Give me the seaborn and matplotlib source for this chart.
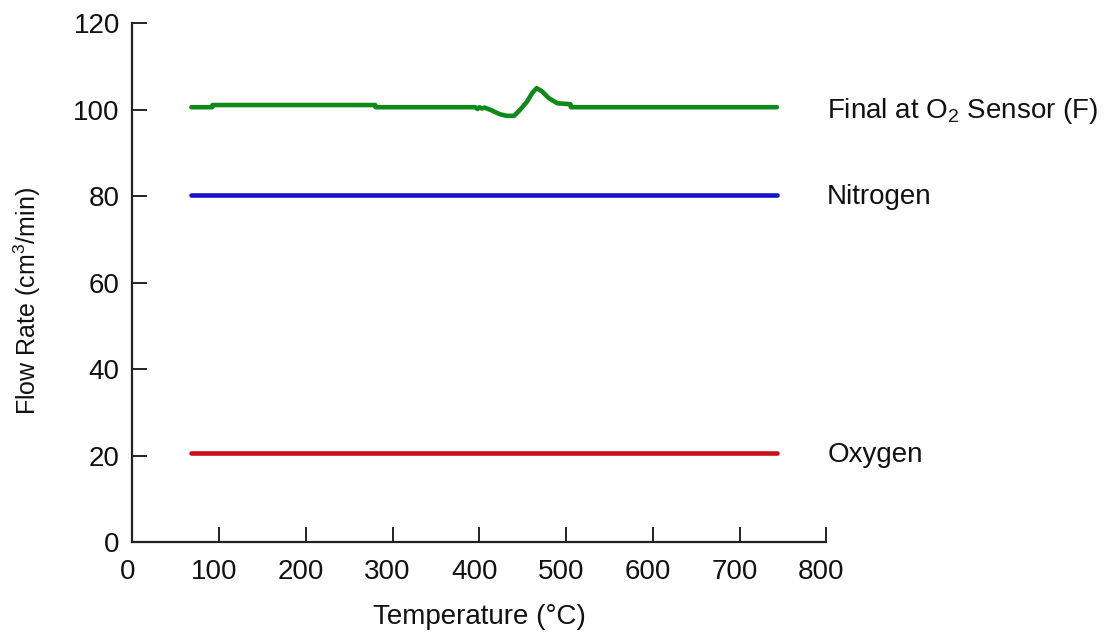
import matplotlib
matplotlib.use("Agg")
import matplotlib.pyplot as plt
import matplotlib.transforms as mtransforms
import seaborn as sns
import pandas as pd

# Flow rates versus furnace temperature
final_temp = [68, 92, 92.5, 280, 280.5, 395, 398, 400, 403, 406, 410, 415, 420,
              425, 432, 440, 447, 455, 461, 466, 472, 480, 490, 505, 505.5, 743]
final_flow = [100.6, 100.6, 101.1, 101.1, 100.6, 100.6, 100.2, 100.6, 100.3, 100.5,
              100.2, 99.8, 99.3, 98.9, 98.6, 98.6, 100.0, 101.9, 103.9, 105.0,
              104.3, 102.7, 101.5, 101.3, 100.6, 100.6]
nitrogen_temp = [68, 743]
nitrogen_flow = [80.4, 80.4]
oxygen_temp = [68, 743]
oxygen_flow = [20.6, 20.6]

series_names = ["Final at $\\mathregular{O_2}$ Sensor (F)", "Nitrogen", "Oxygen"]
series_colors = ["#0f8a1a", "#1414c8", "#c8101a"]

frames = []
for name, t, f in zip(series_names,
                      [final_temp, nitrogen_temp, oxygen_temp],
                      [final_flow, nitrogen_flow, oxygen_flow]):
    frames.append(pd.DataFrame({"Temperature": t, "Flow": f, "Series": name}))
df = pd.concat(frames, ignore_index=True)

sns.set_style("ticks")
plt.rcParams["font.family"] = ["Liberation Sans", "DejaVu Sans"]
plt.rcParams["mathtext.fontset"] = "custom"
plt.rcParams["mathtext.rm"] = "Liberation Sans"
plt.rcParams["mathtext.it"] = "Liberation Sans:italic"
plt.rcParams["mathtext.bf"] = "Liberation Sans:bold"

FS = 20

fig = plt.figure(figsize=(11.15, 6.33), dpi=100)
ax = fig.add_axes([0.1187, 0.1433, 0.6224, 0.8199])

sns.lineplot(data=df, x="Temperature", y="Flow", hue="Series",
             palette=dict(zip(series_names, series_colors)),
             sort=False, estimator=None, linewidth=3.3, legend=False, ax=ax,
             solid_capstyle="round")

ax.set_xlim(0, 800)
ax.set_ylim(0, 120)
ax.set_xticks(range(0, 801, 100))
ax.set_yticks(range(0, 121, 20))
ax.tick_params(direction="in", length=11, width=1.4, labelsize=FS,
               color="#222222", labelcolor="#111111")
ax.tick_params(axis="x", pad=12)
ax.tick_params(axis="y", pad=9)
for side in ("top", "right"):
    ax.spines[side].set_visible(False)
for side in ("left", "bottom"):
    ax.spines[side].set_linewidth(1.6)
    ax.spines[side].set_color("#222222")

# x tick labels sit slightly left of their ticks
shift = mtransforms.ScaledTranslation(-0.05, 0, fig.dpi_scale_trans)
for lab in ax.get_xticklabels():
    lab.set_transform(lab.get_transform() + shift)

ax.set_xlabel("Temperature (°C)", fontsize=FS, labelpad=14, color="#111111")
ax.set_ylabel("Flow Rate (cm$^{3}$/min)", fontsize=18, labelpad=22,
              color="#111111")
ax.yaxis.label.set_y(0.465)

# Series labels to the right of the line ends
for name, flows, dy in zip(series_names,
                           [final_flow, nitrogen_flow, oxygen_flow],
                           [-0.9, -0.6, -0.5]):
    ax.text(801, flows[-1] + dy, name, fontsize=FS, va="center", ha="left",
            color="#111111", clip_on=False)

fig.savefig("out.png", dpi=100)
